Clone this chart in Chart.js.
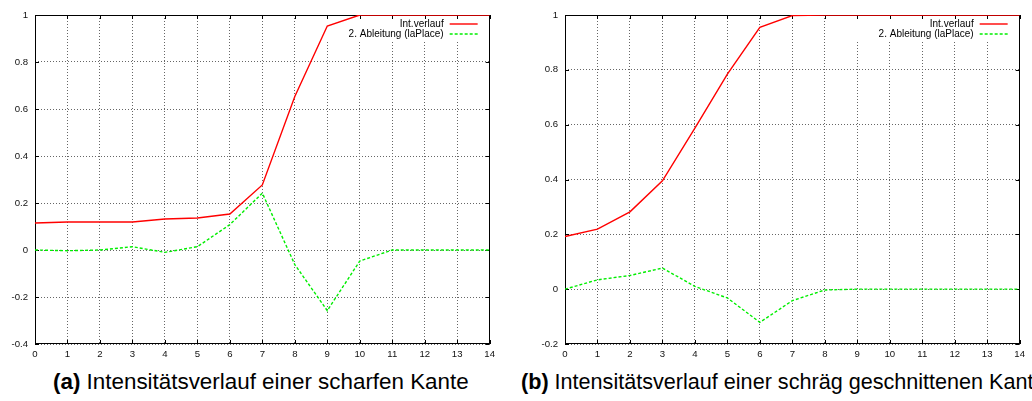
<!DOCTYPE html>
<html>
<head>
<meta charset="utf-8">
<script src="https://cdn.jsdelivr.net/npm/chart.js@4"></script>
<style>
body { margin: 0; width: 1032px; height: 401px; overflow: hidden; background: #fff; position: relative; font-family: "Liberation Sans", Arial, sans-serif; }
canvas { position: absolute; top: 0; }
.cap { position: absolute; top: 371px; font-size: 21.6px; line-height: 21.6px; white-space: nowrap; color: #000; }
</style>
</head>
<body>
<canvas id="chartA" width="500" height="362" style="left:0"></canvas>
<canvas id="chartB" width="500" height="362" style="left:530px"></canvas>
<div class="cap" style="left:53px; font-size:22.4px"><b>(a)</b> Intensitätsverlauf einer scharfen Kante</div>
<div class="cap" style="left:521px"><b>(b)</b> Intensitätsverlauf einer schräg geschnittenen Kante</div>
<script>
// pixel positions along the edge profile
const positions = [0, 1, 2, 3, 4, 5, 6, 7, 8, 9, 10, 11, 12, 13, 14];

// (a) sharp edge
const sharpIntensity = [0.115, 0.119, 0.119, 0.119, 0.132, 0.136, 0.153, 0.277, 0.653, 0.953, 1, 1, 1, 1, 1];
const sharpLaplace = [0, -0.003, 0, 0.014, -0.01, 0.014, 0.108, 0.242, -0.062, -0.258, -0.047, 0, 0, 0, 0];

// (b) oblique cut edge
const obliqueIntensity = [0.192, 0.219, 0.282, 0.395, 0.587, 0.784, 0.955, 0.998, 1, 1, 1, 1, 1, 1, 1];
const obliqueLaplace = [0, 0.034, 0.05, 0.077, 0.01, -0.032, -0.121, -0.042, -0.003, 0, 0, 0, 0, 0, 0];

const seriesLabels = ['Int.verlauf', '2. Ableitung (laPlace)'];

const font = { family: '"Liberation Sans", Arial, sans-serif', size: 9.6 };

// gnuplot style frame, inward ticks and key
const gnuplotLook = {
    id: 'gnuplotLook',
    beforeDatasetsDraw(chart) {
        const { ctx, chartArea: a, scales } = chart;
        ctx.save();
        // key area keeps the grid out
        ctx.fillStyle = '#fff';
        ctx.fillRect(a.right - 168, a.top + 1, 167, 25);
        ctx.strokeStyle = '#000';
        ctx.lineWidth = 1;
        ctx.strokeRect(Math.round(a.left) + 0.5, Math.round(a.top) + 0.5, Math.round(a.right - a.left) - 1, Math.round(a.bottom - a.top) - 1);
        ctx.beginPath();
        scales.x.ticks.forEach(t => {
            const x = Math.round(scales.x.getPixelForValue(t.value)) + 0.5;
            ctx.moveTo(x, a.bottom); ctx.lineTo(x, a.bottom - 4);
            ctx.moveTo(x, a.top); ctx.lineTo(x, a.top + 4);
        });
        scales.y.ticks.forEach(t => {
            const y = Math.round(scales.y.getPixelForValue(t.value)) + 0.5;
            ctx.moveTo(a.left, y); ctx.lineTo(a.left + 4, y);
            ctx.moveTo(a.right, y); ctx.lineTo(a.right - 4, y);
        });
        ctx.stroke();
        ctx.restore();
    },
    afterDatasetsDraw(chart) {
        const { ctx, chartArea: a } = chart;
        ctx.save();
        ctx.font = '10px "Liberation Sans", Arial, sans-serif';
        ctx.textAlign = 'right';
        ctx.textBaseline = 'middle';
        chart.data.datasets.forEach((ds, i) => {
            const y = a.top + 9 + i * 10;
            ctx.fillStyle = '#000';
            ctx.fillText(ds.label, a.right - 46, y);
            ctx.strokeStyle = ds.borderColor;
            ctx.lineWidth = ds.borderWidth;
            ctx.setLineDash(ds.borderDash || []);
            ctx.beginPath();
            ctx.moveTo(a.right - 40, y);
            ctx.lineTo(a.right - 12, y);
            ctx.stroke();
        });
        ctx.restore();
    }
};

function makeChart(id, intensity, laplace, yMin, rightPad) {
    const ctx = document.getElementById(id).getContext('2d');
    return new Chart(ctx, {
        type: 'line',
        data: {
            datasets: [{
                label: seriesLabels[0],
                data: positions.map((x, i) => ({ x: x, y: intensity[i] })),
                borderColor: '#ff0000',
                borderWidth: 1.4,
                pointRadius: 0,
                tension: 0
            }, {
                label: seriesLabels[1],
                data: positions.map((x, i) => ({ x: x, y: laplace[i] })),
                borderColor: '#00ee00',
                borderWidth: 1.4,
                borderDash: [3, 2],
                pointRadius: 0,
                tension: 0
            }]
        },
        options: {
            responsive: false,
            animation: false,
            devicePixelRatio: 1,
            layout: { padding: { top: 15, right: rightPad, left: 0, bottom: 0 } },
            plugins: { legend: { display: false }, tooltip: { enabled: false } },
            scales: {
                x: {
                    type: 'linear',
                    min: 0,
                    max: 14,
                    ticks: { stepSize: 1, color: '#111', font: font, padding: 5, maxRotation: 0 },
                    grid: { color: '#666', drawTicks: false },
                    border: { display: false, dash: [1, 2] },
                    afterFit: s => { s.height = 18; }
                },
                y: {
                    min: yMin,
                    max: 1,
                    ticks: { stepSize: 0.2, color: '#111', font: font, padding: 7, callback: v => String(+v.toFixed(1)) },
                    grid: { color: '#666', drawTicks: false },
                    border: { display: false, dash: [1, 2] },
                    afterFit: s => { s.width = 35; }
                }
            }
        },
        plugins: [gnuplotLook]
    });
}

makeChart('chartA', sharpIntensity, sharpLaplace, -0.4, 8);
makeChart('chartB', obliqueIntensity, obliqueLaplace, -0.2, 7);
</script>
</body>
</html>
